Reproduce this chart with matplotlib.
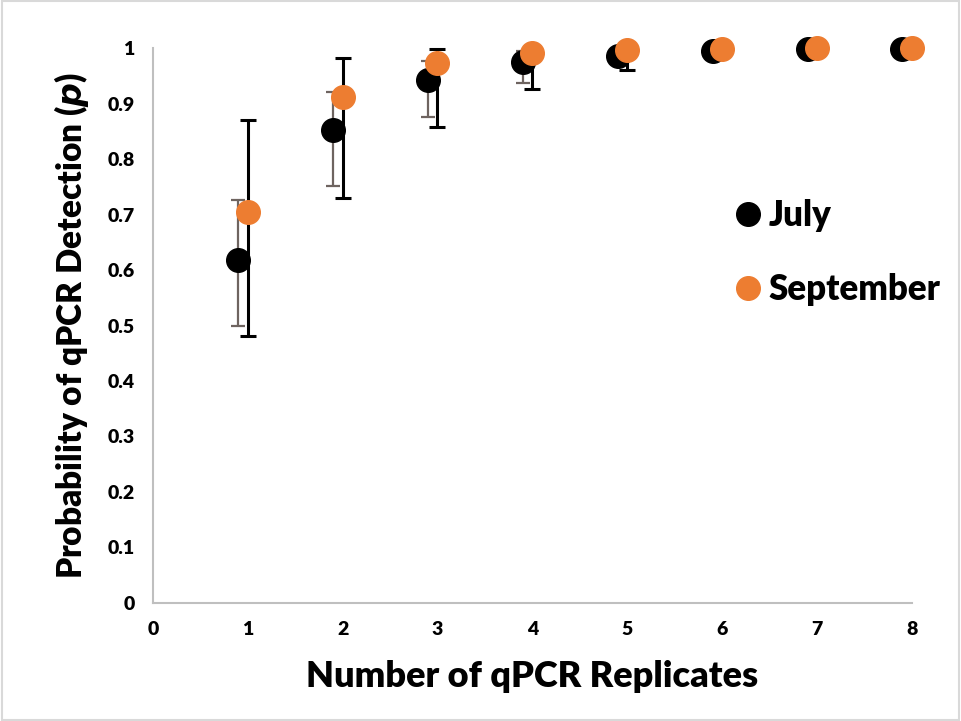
import numpy as np
import matplotlib
matplotlib.use("Agg")
import matplotlib.pyplot as plt

# replicate number
replicates = np.array([1, 2, 3, 4, 5, 6, 7, 8])

# july estimates and lower / upper error bar ends
july_p = [0.618, 0.852, 0.942, 0.975, 0.987, 0.996, 0.999, 0.999]
july_lo = [0.500, 0.751, 0.876, 0.937, 0.975, 0.990, 0.998, 0.999]
july_hi = [0.726, 0.922, 0.978, 0.995, 0.998, 0.999, 1.000, 1.000]

# september estimates and lower / upper error bar ends
sept_p = [0.705, 0.912, 0.973, 0.991, 0.997, 0.999, 1.000, 1.000]
sept_lo = [0.481, 0.730, 0.858, 0.926, 0.960, 0.990, 0.998, 1.000]
sept_hi = [0.870, 0.982, 0.998, 1.000, 1.000, 1.000, 1.000, 1.000]

xticks = [0, 1, 2, 3, 4, 5, 6, 7, 8]
yticks = [0, 0.1, 0.2, 0.3, 0.4, 0.5, 0.6, 0.7, 0.8, 0.9, 1]
yticklabels = ["0", "0.1", "0.2", "0.3", "0.4", "0.5", "0.6", "0.7", "0.8", "0.9", "1"]

plt.rcParams['font.family'] = ['Lato', 'DejaVu Sans']
plt.rcParams['font.weight'] = 'bold'

fig = plt.figure(figsize=(9.61, 7.21), dpi=100)
ax = fig.add_axes([0.159, 0.164, 0.790, 0.769])

orange = "#ED7D31"
jx = replicates - 0.1
sx = replicates.astype(float)

jp = np.array(july_p)
sp = np.array(sept_p)
jerr = [jp - np.array(july_lo), np.array(july_hi) - jp]
serr = [sp - np.array(sept_lo), np.array(sept_hi) - sp]

ax.errorbar(jx, jp, yerr=jerr, fmt="none", ecolor="#6e6460", elinewidth=1.6,
            capsize=5, capthick=1.6, zorder=2, clip_on=False)
ax.plot(jx, jp, "o", color="black", markersize=17, zorder=3, clip_on=False, label="July")
ax.errorbar(sx, sp, yerr=serr, fmt="none", ecolor="black", elinewidth=2.2,
            capsize=6, capthick=2.2, zorder=4, clip_on=False)
ax.plot(sx, sp, "o", color=orange, markersize=17, zorder=5, clip_on=False, label="September")

ax.set_xlim(0, 8)
ax.set_ylim(0, 1)
ax.set_xticks(xticks)
ax.set_yticks(yticks)
ax.set_yticklabels(yticklabels)
ax.tick_params(length=0, labelsize=14, pad=13)
for lab in ax.get_xticklabels() + ax.get_yticklabels():
    lab.set_fontweight("heavy")

for s in ["top", "right"]:
    ax.spines[s].set_visible(False)
ax.spines["left"].set_color("#bfbfbf")
ax.spines["bottom"].set_color("#bfbfbf")
ax.spines["left"].set_linewidth(1.5)
ax.spines["bottom"].set_linewidth(1.5)

ax.set_xlabel("Number of qPCR Replicates", fontsize=26, fontweight="heavy", labelpad=16)
ax.set_ylabel(r"Probability of qPCR Detection ($\mathbf{\mathit{p}}$)", fontsize=24,
              fontweight="heavy", labelpad=12)

leg = ax.legend(loc="upper left", bbox_to_anchor=(0.715, 0.785), frameon=False, fontsize=25,
                handletextpad=0.0, labelspacing=1.2, markerscale=1.0, handlelength=1.2,
                prop={"size": 25, "weight": "heavy"})

fig.patches.append(plt.Rectangle((0.002, 0.002), 0.996, 0.996, transform=fig.transFigure,
                                 fill=False, edgecolor="#d9d9d9", linewidth=1.5))

fig.savefig("out.png", dpi=100)
